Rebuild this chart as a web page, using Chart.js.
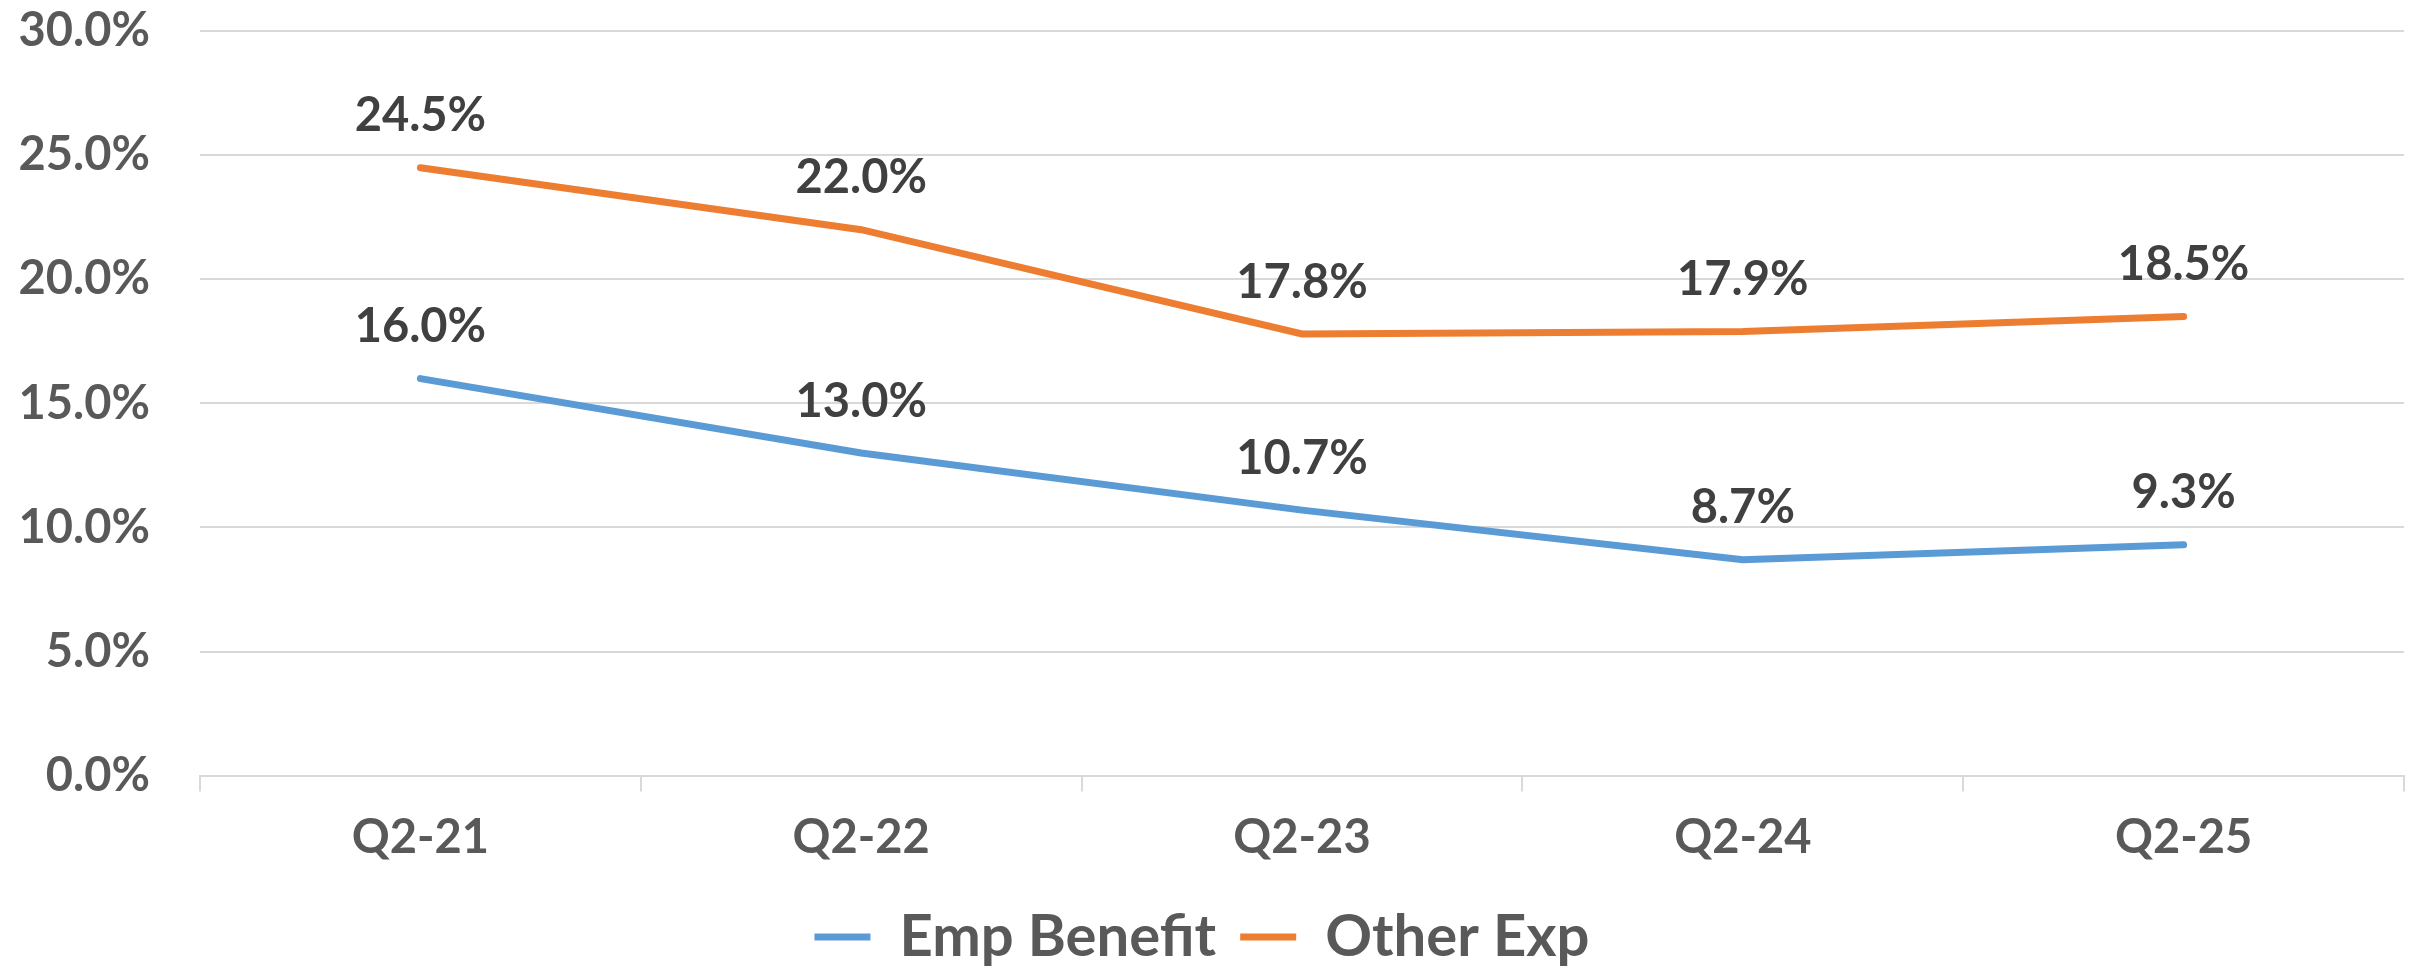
<!DOCTYPE html>
<html>
<head>
<meta charset="utf-8">
<script src="https://cdn.jsdelivr.net/npm/chart.js@4/dist/chart.umd.min.js"></script>
<style>
  html, body { margin: 0; padding: 0; background: #fff; overflow: hidden; }
  #wrap { width: 2420px; height: 1027px; margin-top: -47px; }
</style>
</head>
<body>
<div id="wrap"><canvas id="chart"></canvas></div>
<script>
// data
const quarters = ['Q2-21', 'Q2-22', 'Q2-23', 'Q2-24', 'Q2-25'];
const empBenefit = [16.0, 13.0, 10.7, 8.7, 9.3];
const otherExp = [24.5, 22.0, 17.8, 17.9, 18.5];
const seriesNames = ['Emp Benefit', 'Other Exp'];
const yTicks = [0, 5, 10, 15, 20, 25, 30];

const FONT = 'Lato, "Open Sans", sans-serif';

// value labels above each point
const valueLabels = {
    id: 'valueLabels',
    afterDatasetsDraw(chart) {
        const ctx = chart.ctx;
        ctx.save();
        ctx.font = 'bold 47px ' + FONT;
        ctx.fillStyle = '#404040';
        ctx.textAlign = 'center';
        ctx.textBaseline = 'bottom';
        chart.data.datasets.forEach((ds, i) => {
            chart.getDatasetMeta(i).data.forEach((pt, j) => {
                ctx.fillText(ds.data[j].toFixed(1) + '%', pt.x, pt.y - 28);
            });
        });
        ctx.restore();
    }
};

new Chart(document.getElementById('chart'), {
    type: 'line',
    data: {
        labels: quarters,
        datasets: [{
            label: seriesNames[0],
            data: empBenefit,
            borderColor: '#5B9BD5',
            backgroundColor: '#5B9BD5',
            borderWidth: 7,
            pointRadius: 0,
            borderCapStyle: 'round',
            tension: 0
        }, {
            label: seriesNames[1],
            data: otherExp,
            borderColor: '#ED7D31',
            backgroundColor: '#ED7D31',
            borderWidth: 7,
            pointRadius: 0,
            borderCapStyle: 'round',
            tension: 0
        }]
    },
    options: {
        responsive: true,
        maintainAspectRatio: false,
        animation: false,
        layout: {
            padding: { top: 0, right: 16, bottom: 4, left: 0 }
        },
        scales: {
            x: {
                offset: true,
                border: { color: '#d9d9d9', width: 2 },
                grid: {
                    offset: true,
                    drawOnChartArea: false,
                    color: '#d9d9d9',
                    lineWidth: 2,
                    tickLength: 16
                },
                ticks: {
                    color: '#595959',
                    font: { family: FONT, size: 47, weight: 'bold' },
                    padding: 18
                }
            },
            y: {
                min: 0,
                max: 30,
                afterFit(scale) { scale.width = 200; },
                afterBuildTicks(scale) { scale.ticks = yTicks.map(v => ({ value: v })); },
                border: { display: false },
                grid: {
                    color: '#d9d9d9',
                    lineWidth: 2,
                    drawTicks: false
                },
                ticks: {
                    color: '#595959',
                    font: { family: FONT, size: 47, weight: 'bold' },
                    padding: 50,
                    callback: v => v.toFixed(1) + '%'
                }
            }
        },
        plugins: {
            tooltip: { enabled: false },
            legend: {
                position: 'bottom',
                labels: {
                    color: '#595959',
                    font: { family: FONT, size: 58, weight: 'bold' },
                    usePointStyle: true,
                    pointStyle: 'line',
                    pointStyleWidth: 56,
                    padding: 24
                }
            }
        }
    },
    plugins: [valueLabels]
});
</script>
</body>
</html>
